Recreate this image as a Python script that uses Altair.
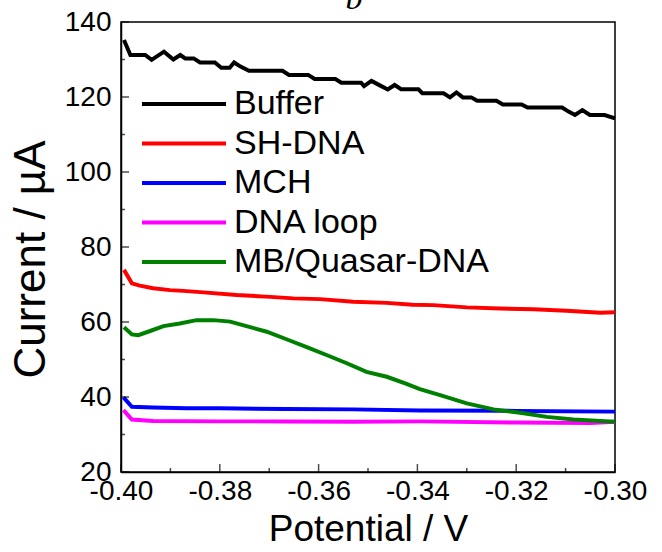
import altair as alt
import pandas as pd

# ---- data ----
series_names = ["Buffer", "SH-DNA", "MCH", "DNA loop", "MB/Quasar-DNA"]
series_colors = ["#000000", "#ff0000", "#0000ff", "#ff00ff", "#008000"]
panel_label = ["b"]

buffer_p = [-0.3994, -0.3981, -0.3951, -0.3938, -0.3913, -0.3894, -0.3880, -0.3870, -0.3853,
            -0.3840, -0.3810, -0.3797, -0.3780, -0.3771, -0.3758, -0.3741, -0.3673, -0.3660,
            -0.3621, -0.3608, -0.3566, -0.3554, -0.3514, -0.3508, -0.3493, -0.3476, -0.3460,
            -0.3446, -0.3433, -0.3398, -0.3390, -0.3347, -0.3334, -0.3321, -0.3308, -0.3291,
            -0.3279, -0.3240, -0.3227, -0.3189, -0.3177, -0.3107, -0.3094, -0.3081, -0.3066,
            -0.3051, -0.3021, -0.3000]
buffer_v = [135.2, 131.2, 131.2, 129.9, 132.1, 130.0, 131.2, 130.3, 130.3,
            129.2, 129.2, 127.8, 127.8, 129.2, 128.1, 127.0, 127.0, 125.9,
            125.9, 124.8, 124.8, 123.8, 123.8, 122.9, 124.3, 123.1, 122.0,
            123.2, 122.1, 122.1, 121.0, 121.0, 119.9, 121.2, 119.9, 119.9,
            119.0, 119.0, 118.0, 118.0, 117.2, 117.2, 116.1, 115.2, 116.5,
            115.2, 115.2, 114.3]

shdna_p = [-0.3994, -0.3978, -0.3962, -0.3935, -0.3901, -0.3874, -0.3833, -0.3766, -0.3698,
           -0.3651, -0.3597, -0.3530, -0.3462, -0.3410, -0.3368, -0.3300, -0.3233, -0.3165,
           -0.3098, -0.3030, -0.3000]
shdna_v = [73.9, 70.3, 69.7, 69.0, 68.5, 68.3, 67.9, 67.2, 66.7,
           66.3, 66.1, 65.4, 65.1, 64.6, 64.5, 63.9, 63.6, 63.4,
           63.0, 62.5, 62.6]

mch_p = [-0.3995, -0.3978, -0.3935, -0.3867, -0.3800, -0.3665, -0.3530, -0.3395, -0.3200,
         -0.3000]
mch_v = [39.9, 37.4, 37.2, 37.0, 37.0, 36.8, 36.7, 36.4, 36.3, 36.1]

loop_p = [-0.3995, -0.3978, -0.3935, -0.3800, -0.3665, -0.3530, -0.3395, -0.3200, -0.3050,
          -0.3000]
loop_v = [36.5, 34.0, 33.6, 33.5, 33.5, 33.4, 33.5, 33.2, 33.1, 33.4]

mb_p = [-0.3994, -0.3978, -0.3965, -0.3941, -0.3914, -0.3881, -0.3847, -0.3813, -0.3779,
        -0.3746, -0.3705, -0.3665, -0.3624, -0.3584, -0.3543, -0.3503, -0.3462, -0.3422,
        -0.3395, -0.3354, -0.3300, -0.3246, -0.3192, -0.3138, -0.3084, -0.3030, -0.3000]
mb_v = [58.6, 56.7, 56.5, 57.6, 58.9, 59.6, 60.5, 60.5, 60.1,
        58.9, 57.4, 55.4, 53.3, 51.2, 49.0, 46.7, 45.4, 43.5,
        42.1, 40.5, 38.3, 36.7, 35.8, 34.7, 34.0, 33.6, 33.4]

x_major = [-0.40, -0.38, -0.36, -0.34, -0.32, -0.30]
x_minor = [-0.39, -0.37, -0.35, -0.33, -0.31]
y_major = [20, 40, 60, 80, 100, 120, 140]
y_minor = [30, 50, 70, 90, 110, 130]

# ---- build table ----
rows = []
for k, (name, ps, vs) in enumerate(zip(series_names,
                                        [buffer_p, shdna_p, mch_p, loop_p, mb_p],
                                        [buffer_v, shdna_v, mch_v, loop_v, mb_v])):
    for i, (p, v) in enumerate(zip(ps, vs)):
        rows.append({"series": name, "p": p, "v": v, "i": i, "k": k})
df = pd.DataFrame(rows)

FONT = "Liberation Sans"
W, H = 494, 450

x_scale = alt.Scale(domain=[-0.40, -0.30], nice=False, zero=False)
y_scale = alt.Scale(domain=[20, 140], nice=False, zero=False)

x_axis = alt.Axis(values=x_major, labelExpr="replace(format(datum.value, '.2f'), '\u2212', '-')",
                  ticks=False, grid=False, domain=True, domainColor="black", domainWidth=1.5,
                  labelFont=FONT, labelFontSize=28, labelColor="black", labelPadding=5,
                  labelFlush=False, title="Potential / V", titleFont=FONT, titleFontSize=37,
                  titleFontWeight="normal", titleColor="black", titlePadding=6)
y_axis = alt.Axis(values=y_major, ticks=False, grid=False, domain=True, domainColor="black",
                  domainWidth=1.5, labelFont=FONT, labelFontSize=28, labelColor="black",
                  labelPadding=10, labelFlush=False, title="Current / \u00b5A", titleFont=FONT,
                  titleFontSize=44, titleFontWeight="normal", titleColor="black",
                  titlePadding=11, titleY=237)

lines = alt.Chart(df).mark_line(strokeWidth=4).encode(
    x=alt.X("p:Q", scale=x_scale, axis=x_axis),
    y=alt.Y("v:Q", scale=y_scale, axis=y_axis),
    color=alt.Color("series:N", title=None,
                    scale=alt.Scale(domain=series_names, range=series_colors),
                    legend=alt.Legend(orient="none", legendX=19, legendY=66, symbolType="stroke",
                                      symbolSize=7056, symbolStrokeWidth=4, labelFont=FONT,
                                      labelFontSize=34, labelColor="black", labelOffset=6,
                                      labelLimit=600, clipHeight=32, rowPadding=5.5, padding=0)),
    detail="k:O",
    order="i:Q",
)

xt = pd.DataFrame({"p": x_major + x_minor, "len": [8] * len(x_major) + [4] * len(x_minor)})
yt = pd.DataFrame({"v": y_major + y_minor, "len": [8] * len(y_major) + [4] * len(y_minor)})

xt_major = alt.Chart(xt).transform_filter("datum.len == 8").mark_tick(
    orient="vertical", size=8, thickness=1.5, yOffset=-4, color="black").encode(
    x=alt.X("p:Q", scale=x_scale, axis=x_axis), y=alt.value(H))
xt_minor = alt.Chart(xt).transform_filter("datum.len == 4").mark_tick(
    orient="vertical", size=4, thickness=1.5, yOffset=-2, color="black").encode(
    x=alt.X("p:Q", scale=x_scale, axis=x_axis), y=alt.value(H))
yt_major = alt.Chart(yt).transform_filter("datum.len == 8").mark_tick(
    orient="horizontal", size=8, thickness=1.5, xOffset=4, color="black").encode(
    y=alt.Y("v:Q", scale=y_scale, axis=y_axis), x=alt.value(0))
yt_minor = alt.Chart(yt).transform_filter("datum.len == 4").mark_tick(
    orient="horizontal", size=4, thickness=1.5, xOffset=2, color="black").encode(
    y=alt.Y("v:Q", scale=y_scale, axis=y_axis), x=alt.value(0))

# panel letter, partly cut off at the top edge as in the reference
letter = alt.Chart(pd.DataFrame({"t": panel_label})).mark_text(
    font="Liberation Serif", fontSize=34, fontStyle="italic", color="black",
    align="center", baseline="alphabetic").encode(
    text="t:N", x=alt.value(233), y=alt.value(-13))

chart = alt.layer(lines, xt_major, xt_minor, yt_major, yt_minor, letter).properties(
    width=W, height=H,
    autosize=alt.AutoSizeParams(type="none"),
    padding={"left": 121, "top": 22, "right": 47, "bottom": 80},
    background="white",
).configure_view(stroke="black", strokeWidth=1.5)

chart.save("out.html", embed_options={"renderer": "svg", "actions": False})
